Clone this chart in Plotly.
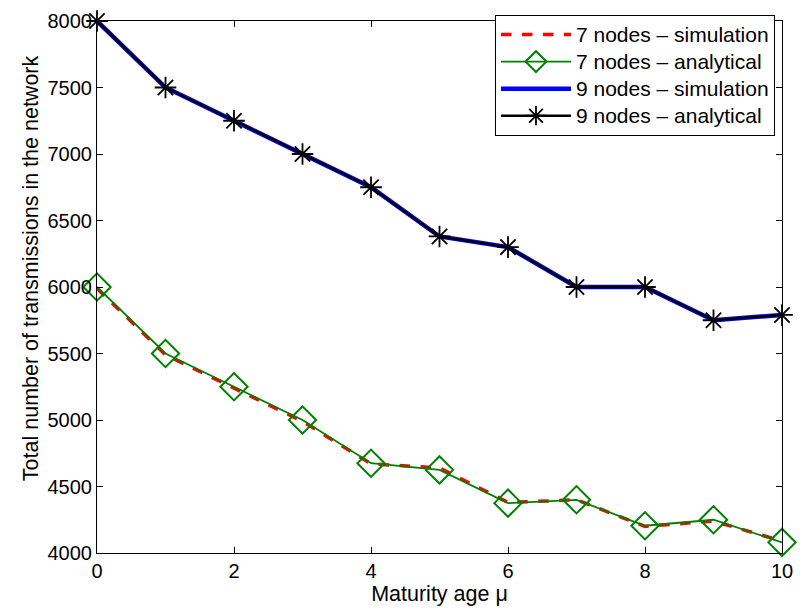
import plotly.graph_objects as go

mu = [0, 1, 2, 3, 4, 5, 6, 7, 8, 9, 10]
sim7 = [5990, 5490, 5240, 4990, 4670, 4640, 4380, 4400, 4200, 4240, 4090]
ana7 = [6000, 5500, 5250, 5000, 4675, 4625, 4375, 4400, 4205, 4250, 4080]
sim9 = [8000, 7500, 7250, 7000, 6750, 6380, 6300, 6000, 6000, 5750, 5790]
ana9 = [8000, 7500, 7250, 7000, 6750, 6380, 6300, 6000, 6000, 5750, 5790]

names = ["7 nodes \u2013 simulation", "7 nodes \u2013 analytical",
         "9 nodes \u2013 simulation", "9 nodes \u2013 analytical"]

y_ticks = [4000, 4500, 5000, 5500, 6000, 6500, 7000, 7500, 8000]
x_ticks = [0, 2, 4, 6, 8, 10]

FONT = "Liberation Sans, Arial, Helvetica, sans-serif"


def lg(name):
    return '<span style="font-size:21px">' + name + '</span>'


fig = go.Figure()
fig.add_trace(go.Scatter(x=mu, y=sim7, mode="lines", name=lg(names[0]),
                         line=dict(color="#ff0000", width=3.5, dash="dash")))
fig.add_trace(go.Scatter(x=mu, y=ana7, mode="lines+markers", name=lg(names[1]),
                         cliponaxis=False,
                         line=dict(color="#008000", width=1.8),
                         marker=dict(symbol="diamond-open", size=21, color="#008000",
                                     line=dict(width=2, color="#008000"))))
fig.add_trace(go.Scatter(x=mu, y=sim9, mode="lines", name=lg(names[2]),
                         line=dict(color="#0000ff", width=4.5)))
fig.add_trace(go.Scatter(x=mu, y=ana9, mode="lines+markers", name=lg(names[3]),
                         cliponaxis=False,
                         line=dict(color="#000000", width=2.5),
                         marker=dict(symbol="asterisk-open", size=18, color="#000000",
                                     line=dict(width=1.8, color="#000000"))))

axis_common = dict(showline=True, linecolor="black", linewidth=1, mirror="ticks",
                   ticks="inside", ticklen=6, tickcolor="black", showgrid=False,
                   zeroline=False, ticklabeloverflow="allow",
                   tickfont=dict(family=FONT, size=20, color="black"))

fig.update_layout(
    width=803, height=611,
    margin=dict(l=97, r=10, t=18, b=58),
    paper_bgcolor="white", plot_bgcolor="white",
    font=dict(family=FONT, size=20, color="black"),
    showlegend=True,
    legend=dict(x=0.581, y=1.0112, xanchor="left", yanchor="top",
                bgcolor="white", bordercolor="black", borderwidth=1,
                font=dict(family=FONT, size=18.5, color="black"),
                itemwidth=70, tracegroupgap=0),
    annotations=[dict(text="Total number of transmissions in the network",
                      textangle=-90, xref="paper", yref="paper",
                      x=-0.097, y=0.5346, xanchor="center", yanchor="middle",
                      showarrow=False, font=dict(family=FONT, size=21.5, color="black"))],
)
fig.update_xaxes(range=[0, 10], tickvals=x_ticks, ticktext=[str(v) for v in x_ticks],
                 title=dict(text="Maturity age \u03bc", font=dict(family=FONT, size=21.5), standoff=4),
                 **axis_common)
fig.update_yaxes(range=[4000, 8000], tickvals=y_ticks, ticktext=[str(v) for v in y_ticks],
                 **axis_common)

fig.write_html("out.html", config={"displayModeBar": False},
               post_script="document.body.style.margin='0';")
